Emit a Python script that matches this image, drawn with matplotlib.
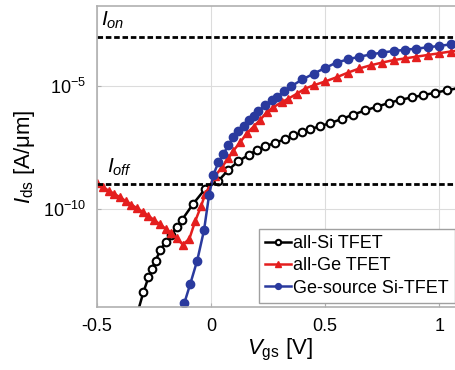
import numpy as np
import matplotlib
matplotlib.use('Agg')
import matplotlib.pyplot as plt

plt.rcParams['font.family'] = ['Liberation Sans', 'DejaVu Sans']
plt.rcParams['mathtext.fontset'] = 'custom'
plt.rcParams['mathtext.rm'] = 'Liberation Sans'
plt.rcParams['mathtext.it'] = 'Liberation Sans:italic'

# all-Si TFET (black, open circles), log10 of current
si_v = [-0.325, -0.297, -0.275, -0.26, -0.243, -0.224, -0.2, -0.175, -0.15, -0.129, -0.078, -0.026,
        0.032, 0.076, 0.12, 0.164, 0.2, 0.237, 0.281, 0.325, 0.36, 0.398, 0.434, 0.478,
        0.522, 0.573, 0.624, 0.675, 0.727, 0.778, 0.829, 0.88, 0.93, 0.982, 1.034, 1.085]
si_log = [-14.3, -13.39, -12.79, -12.43, -12.1, -11.69, -11.35, -11.05, -10.75, -10.46, -9.78, -9.18,
          -8.85, -8.4, -8.05, -7.8, -7.6, -7.45, -7.3, -7.15, -7.0, -6.88, -6.75, -6.62,
          -6.5, -6.33, -6.15, -5.98, -5.83, -5.68, -5.55, -5.45, -5.36, -5.26, -5.16, -5.07]

# all-Ge TFET (red triangles)
ge_v = [-0.5, -0.475, -0.45, -0.425, -0.4, -0.375, -0.35, -0.325, -0.3, -0.275, -0.25, -0.225,
        -0.2, -0.175, -0.15, -0.125, -0.096, -0.07, -0.044, -0.026,
        0.018, 0.047, 0.076, 0.098, 0.127, 0.157, 0.186, 0.215, 0.244, 0.273, 0.31, 0.339,
        0.376, 0.412, 0.449, 0.5, 0.55, 0.6, 0.65, 0.7, 0.75, 0.8, 0.85, 0.9, 0.95, 1.0, 1.05, 1.1]
ge_log = [-8.95, -9.1, -9.25, -9.38, -9.52, -9.67, -9.82, -9.97, -10.12, -10.28, -10.45, -10.62,
          -10.8, -10.98, -11.2, -11.45, -11.23, -10.5, -9.88, -9.39,
          -8.65, -8.3, -7.92, -7.62, -7.28, -6.91, -6.64, -6.37, -6.05, -5.85, -5.64, -5.5,
          -5.3, -5.09, -4.96, -4.8, -4.63, -4.44, -4.27, -4.14, -4.03, -3.93, -3.86, -3.79,
          -3.72, -3.65, -3.58, -3.52]

# Ge-source Si-TFET (blue)
gs_v = [-0.145, -0.118, -0.092, -0.061, -0.031, -0.009, 0.01, 0.032, 0.054, 0.076, 0.098, 0.12,
        0.142, 0.164, 0.186, 0.207, 0.237, 0.266, 0.288, 0.32, 0.35, 0.4, 0.45, 0.5, 0.55,
        0.6, 0.65, 0.7, 0.75, 0.8, 0.85, 0.9, 0.95, 1.0, 1.05, 1.1]
gs_log = [-14.6, -13.85, -13.07, -12.1, -10.86, -9.43, -8.6, -8.1, -7.76, -7.39, -7.07, -6.84,
          -6.6, -6.39, -6.21, -6.02, -5.78, -5.57, -5.44, -5.2, -5.0, -4.72, -4.48, -4.25, -4.03,
          -3.9, -3.79, -3.7, -3.62, -3.56, -3.51, -3.46, -3.41, -3.35, -3.29, -3.24]

i_on = 1e-3
i_off = 1e-9
labels = ['all-Si TFET', 'all-Ge TFET', 'Ge-source Si-TFET']

fig = plt.figure(figsize=(4.56, 3.70), dpi=100)
ax = fig.add_axes([0.213, 0.170, 0.80, 0.814])

ax.semilogy(si_v, 10 ** np.array(si_log), '-o', color='black', mfc='white', mec='black',
            ms=5.5, mew=1.5, lw=1.8, label=labels[0])
ax.semilogy(ge_v, 10 ** np.array(ge_log), '-^', color='#e41e1e', ms=6, lw=1.8, label=labels[1])
ax.semilogy(gs_v, 10 ** np.array(gs_log), '-o', color='#2a3a9e', ms=6, lw=1.8, label=labels[2])

ax.axhline(i_on, color='black', lw=2.0, dashes=(2.0, 1.0))
ax.axhline(i_off, color='black', lw=2.0, dashes=(2.0, 1.0))
ax.text(-0.485, 10 ** -2.75, r'$I_{on}$', fontsize=15, ha='left', va='bottom')
ax.text(-0.455, 10 ** -8.75, r'$I_{off}$', fontsize=15, ha='left', va='bottom')

ax.set_xlim(-0.5, 1.1)
ax.set_ylim(1e-14, 10 ** -1.72)
ax.set_xticks([-0.5, 0, 0.5, 1])
ax.set_xticklabels(['-0.5', '0', '0.5', '1'])
ax.set_yticks([1e-10, 1e-5])
ax.minorticks_off()
ax.tick_params(labelsize=13, direction='in', length=3, color='#b0b0b0', pad=8)
ax.grid(True, color='#dcdcdc', lw=0.8)
for s in ax.spines.values():
    s.set_color('#b0b0b0')
    s.set_linewidth(1.2)

ax.set_xlabel(r'$V_{\mathrm{gs}}$ [V]', fontsize=16, labelpad=1)
ax.set_ylabel(r'$I_{\mathrm{ds}}$ [A/μm]', fontsize=16, labelpad=4)

leg = ax.legend(loc='lower left', bbox_to_anchor=(0.568, 0.181), bbox_transform=fig.transFigure,
                fontsize=13, fancybox=False, edgecolor='#a0a0a0', framealpha=1,
                handlelength=1.4, handletextpad=0.15, borderpad=0.35, labelspacing=0.3,
                borderaxespad=0, markerscale=0.7)
leg.get_frame().set_linewidth(1.0)

plt.savefig('out.png', dpi=100)
